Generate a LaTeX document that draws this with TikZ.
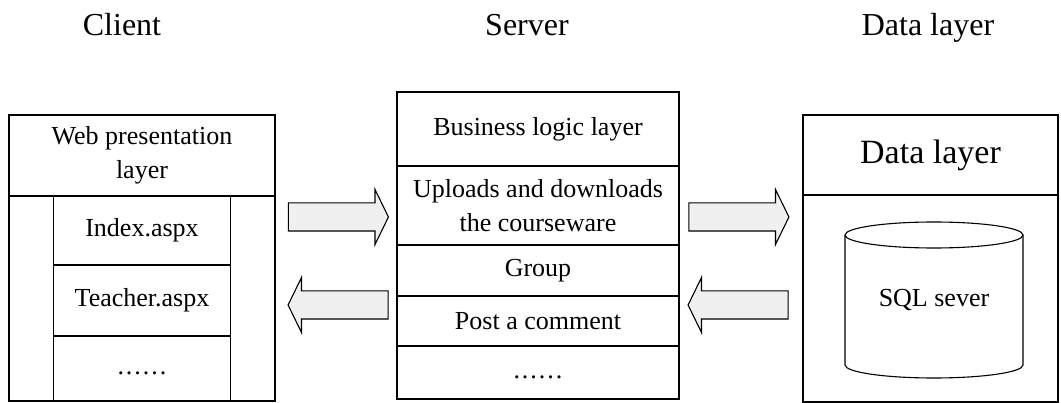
\documentclass[tikz,border=0pt]{standalone}
\usepackage{fontspec}
\setmainfont{Liberation Serif}
\usetikzlibrary{shapes, shapes.arrows, positioning, calc}

\newcommand{\moredots}{\raisebox{-6pt}[0pt][0pt]{.\kern2pt.\kern2pt.\kern2pt.\kern2pt.\kern2pt.}}

\tikzset{
  cell/.style = {draw, line width=1.1pt, inner sep=0pt, outer sep=0pt, align=center,
                 font=\fontsize{26}{34}\selectfont},
  blockarrow/.style = {draw, line width=1.1pt, fill=gray!12, single arrow, inner xsep=0pt,
                 inner ysep=13.5pt, minimum height=100pt, single arrow head extend=13.5pt,
                 single arrow tip angle=128},
  title/.style = {font=\fontsize{32}{36}\selectfont, anchor=base}
}

\begin{document}
\begin{tikzpicture}[x=1pt, y=-1pt]
    \useasboundingbox (0,0) rectangle (1061,403);

    % titles
    \node[title] (tclient) at (122,36) {Client};
    \node[title] (tserver) at (527,36) {Server};
    \node[title] (tdata)   at (928,36) {Data layer};

    % client side
    \node[cell, minimum width=266pt, minimum height=81pt] (webhead) at (142,155.5) {Web presentation\\layer};
    \node[cell, minimum width=266pt, minimum height=205pt, below=0pt of webhead] (webbody) {};
    \node[cell, minimum width=177pt, minimum height=69pt, below=0pt of webhead] (index) {Index.aspx};
    \node[cell, minimum width=177pt, minimum height=71pt, below=0pt of index] (teacher) {Teacher.aspx};
    \node[cell, minimum width=177pt, minimum height=65pt, below=0pt of teacher] (webmore) {\moredots};

    % server side
    \node[cell, minimum width=282pt, minimum height=74pt] (logic) at (538,129) {Business logic layer};
    \node[cell, minimum width=282pt, minimum height=79pt, below=0pt of logic] (upload) {Uploads and downloads\\the courseware};
    \node[cell, minimum width=282pt, minimum height=51pt, below=0pt of upload] (group) {Group};
    \node[cell, minimum width=282pt, minimum height=50pt, below=0pt of group] (comment) {Post a comment};
    \node[cell, minimum width=282pt, minimum height=53pt, below=0pt of comment] (srvmore) {\moredots};

    % data side
    \node[cell, minimum width=255pt, minimum height=80pt, font=\fontsize{34}{38}\selectfont] (datahead) at (930.5,155) {Data layer};
    \node[cell, minimum width=255pt, minimum height=207pt, below=0pt of datahead] (databody) {};
    \draw[line width=1.1pt] (845,235) -- (845,365) arc[start angle=180, end angle=0, x radius=89, y radius=13]
        -- (1023,235);
    \draw[line width=1.1pt] (934,235) ellipse[x radius=89, y radius=13];
    \node[font=\fontsize{26}{30}\selectfont] (sql) at (934,300) {SQL sever};

    % arrows
    \node[blockarrow] (cs) at (335,217) {};
    \node[blockarrow, shape border rotate=180] (sc) at (341.5,305) {};
    \node[blockarrow] (sd) at (735.5,217) {};
    \node[blockarrow, shape border rotate=180] (ds) at (741.5,305) {};
\end{tikzpicture}
\end{document}
